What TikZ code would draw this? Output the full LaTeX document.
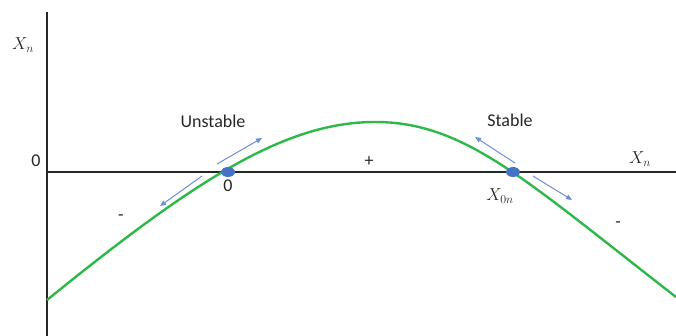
\documentclass[tikz,border=0pt]{standalone}
\usepackage{fontspec}
\setmainfont{Carlito}
\usetikzlibrary{arrows.meta,shapes.geometric}
\definecolor{axisgray}{HTML}{262626}
\definecolor{curvegreen}{HTML}{2FB84A}
\definecolor{dotblue}{HTML}{4472C4}
\definecolor{arrblue}{HTML}{6E8FD6}
\definecolor{txtgray}{HTML}{262626}
\begin{document}
\begin{tikzpicture}[x=1pt,y=-1pt,
  axisline/.style={draw=axisgray,line width=2.4pt},
  curveline/.style={draw=curvegreen,line width=2.4pt},
  eqdot/.style={ellipse,fill=dotblue,minimum width=14pt,minimum height=10pt,inner sep=0pt},
  flowarrow/.style={draw=arrblue,line width=1pt,-{Triangle[length=6pt,width=5pt]}},
  lbl/.style={text=txtgray,font=\fontsize{18}{20}\selectfont,inner sep=0pt},
  mlbl/.style={text=txtgray,font=\fontsize{17}{19}\selectfont,inner sep=0pt}]
\useasboundingbox (0,0) rectangle (676,336);
% axes
\coordinate (ytop) at (47,12);
\coordinate (ybot) at (47,336);
\coordinate (xl) at (47,172);
\coordinate (xr) at (676,172);
\draw[axisline] (ytop) -- (ybot);
\draw[axisline] (xl) -- (xr);
% curve
\coordinate (cs) at (47,300);
\coordinate (cp) at (375,122);
\coordinate (ce) at (676,297);
\draw[curveline] (cs) .. controls (195,180) and (285,122) .. (cp)
  .. controls (465,122) and (525,180) .. (ce);
% equilibrium points
\node[eqdot] (unst) at (228,172) {};
\node[eqdot] (stab) at (513,172) {};
% arrows
\coordinate (ua1) at (217,164);
\coordinate (ua2) at (262,138);
\coordinate (ub1) at (202,176);
\coordinate (ub2) at (160,206);
\coordinate (sa1) at (515,163);
\coordinate (sa2) at (475,137);
\coordinate (sb1) at (533,176);
\coordinate (sb2) at (572,200);
\draw[flowarrow] (ua1) -- (ua2);
\draw[flowarrow] (ub1) -- (ub2);
\draw[flowarrow] (sa1) -- (sa2);
\draw[flowarrow] (sb1) -- (sb2);
% labels
\node[mlbl] (yl) at (23,45) {$X_n$};
\node[lbl] (zl) at (36,161) {0};
\node[lbl] (ul) at (213,121) {Unstable};
\node[lbl] (sl) at (510,120) {Stable};
\node[lbl] (z0) at (228,186) {0};
\node[mlbl] (xn) at (640,159) {$X_n$};
\node[mlbl] (x0n) at (500,196) {$X_{0n}$};
\node[lbl] (plus) at (369,162) {+};
\node[lbl] (m1) at (121,218) {-};
\node[lbl] (m2) at (618,225) {-};
\end{tikzpicture}
\end{document}
